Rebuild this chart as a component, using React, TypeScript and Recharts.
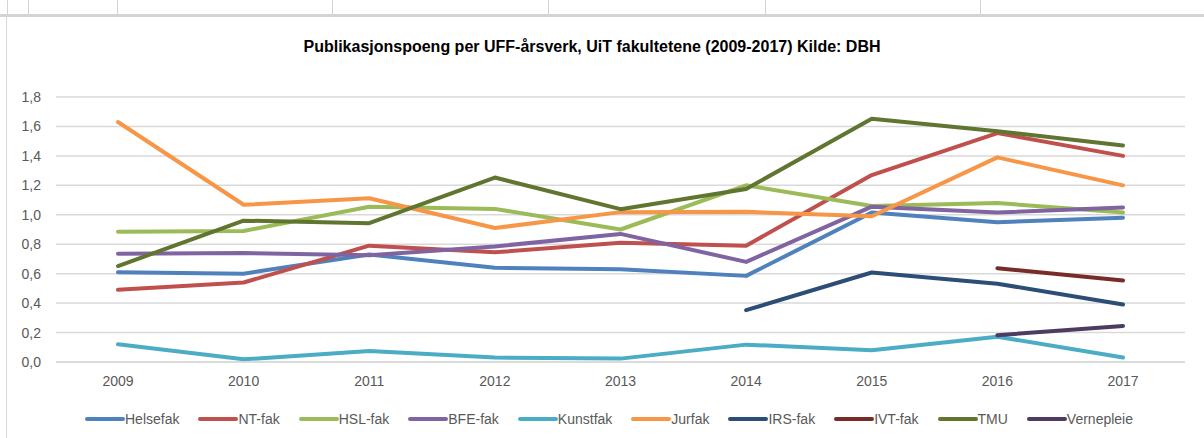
import { LineChart, Line, CartesianGrid, XAxis, YAxis } from "recharts";

const years = ["2009", "2010", "2011", "2012", "2013", "2014", "2015", "2016", "2017"];

const helsefak = [0.61, 0.6, 0.73, 0.64, 0.63, 0.585, 1.015, 0.95, 0.98];
const ntFak = [0.49, 0.54, 0.79, 0.745, 0.81, 0.79, 1.27, 1.555, 1.4];
const hslFak = [0.885, 0.89, 1.055, 1.04, 0.9, 1.2, 1.06, 1.08, 1.015];
const bfeFak = [0.735, 0.74, 0.725, 0.785, 0.87, 0.68, 1.055, 1.015, 1.05];
const kunstfak = [0.12, 0.018, 0.075, 0.03, 0.023, 0.118, 0.08, 0.172, 0.03];
const jurfak = [1.63, 1.068, 1.112, 0.91, 1.018, 1.02, 0.99, 1.39, 1.2];
const irsFak = [null, null, null, null, null, 0.352, 0.608, 0.532, 0.39];
const ivtFak = [null, null, null, null, null, null, null, 0.637, 0.553];
const tmu = [0.652, 0.96, 0.943, 1.253, 1.038, 1.175, 1.652, 1.568, 1.47];
const vernepleie = [null, null, null, null, null, null, null, 0.182, 0.245];

const yTicks = [0, 0.2, 0.4, 0.6, 0.8, 1.0, 1.2, 1.4, 1.6, 1.8];

const series = [
  { key: "Helsefak", values: helsefak, color: "#4F81BD" },
  { key: "NT-fak", values: ntFak, color: "#C0504D" },
  { key: "HSL-fak", values: hslFak, color: "#9BBB59" },
  { key: "BFE-fak", values: bfeFak, color: "#8064A2" },
  { key: "Kunstfak", values: kunstfak, color: "#4BACC6" },
  { key: "Jurfak", values: jurfak, color: "#F79646" },
  { key: "IRS-fak", values: irsFak, color: "#2C4D75" },
  { key: "IVT-fak", values: ivtFak, color: "#772C2A" },
  { key: "TMU", values: tmu, color: "#5F7530" },
  { key: "Vernepleie", values: vernepleie, color: "#4D3B62" },
];

const data = years.map((year, i) => {
  const row: Record<string, string | number | null> = { year };
  series.forEach((s) => {
    row[s.key] = s.values[i];
  });
  return row;
});

const font = "'Liberation Sans', Arial, sans-serif";
const topCells = [7, 28, 117, 332, 548, 765, 980];

export default function App() {
  return (
    <div
      style={{
        position: "absolute",
        left: 0,
        top: 0,
        width: 1204,
        height: 438,
        background: "#fff",
        overflow: "hidden",
      }}
    >
      <div
        style={{
          position: "absolute",
          left: 0,
          top: 0,
          width: 1204,
          height: 14,
          borderBottom: "3px solid #d4d4d4",
        }}
      >
        {topCells.map((x) => (
          <div
            key={x}
            style={{ position: "absolute", left: x, top: 0, width: 1, height: 14, background: "#d4d4d4" }}
          />
        ))}
      </div>
      <div
        style={{ position: "absolute", left: 6, top: 17, width: 1, height: 421, background: "#d9d9d9" }}
      />
      <div
        style={{
          position: "absolute",
          left: 0,
          top: 37,
          width: 1184,
          textAlign: "center",
          fontFamily: font,
          fontWeight: "bold",
          fontSize: 16,
          lineHeight: "20px",
          color: "#000",
        }}
      >
        Publikasjonspoeng per UFF-årsverk, UiT fakultetene (2009-2017) Kilde: DBH
      </div>
      <div style={{ position: "absolute", left: 0, top: 0 }}>
        <LineChart
          width={1204}
          height={438}
          data={data}
          margin={{ top: 97, right: 19, bottom: 46, left: 0 }}
        >
          <CartesianGrid vertical={false} stroke="#d9d9d9" strokeWidth={1.5} />
          <XAxis
            dataKey="year"
            padding={{ left: 62, right: 62 }}
            tickLine={false}
            axisLine={{ stroke: "#d9d9d9", strokeWidth: 1.5 }}
            tickSize={0}
            tickMargin={14}
            height={30}
            tick={{ fill: "#595959", fontSize: 14, fontFamily: font }}
          />
          <YAxis
            width={56}
            domain={[0, 1.8]}
            ticks={yTicks}
            tickLine={false}
            axisLine={false}
            tickSize={0}
            tickMargin={15}
            tickFormatter={(v: number) => v.toFixed(1).replace(".", ",")}
            tick={{ fill: "#595959", fontSize: 14, fontFamily: font }}
          />
          {series.map((s) => (
            <Line
              key={s.key}
              dataKey={s.key}
              stroke={s.color}
              strokeWidth={4}
              strokeLinecap="round"
              strokeLinejoin="round"
              dot={false}
              activeDot={false}
              type="linear"
              isAnimationActive={false}
            />
          ))}
        </LineChart>
      </div>
      <div
        style={{
          position: "absolute",
          left: 14,
          top: 411,
          width: 1190,
          display: "flex",
          justifyContent: "center",
          gap: 19,
          fontFamily: font,
          fontSize: 14,
          color: "#595959",
        }}
      >
        {series.map((s) => (
          <div key={s.key} style={{ display: "flex", alignItems: "center" }}>
            <span
              style={{
                display: "inline-block",
                width: 40,
                height: 4,
                borderRadius: 2,
                background: s.color,
              }}
            />
            <span>{s.key}</span>
          </div>
        ))}
      </div>
    </div>
  );
}
